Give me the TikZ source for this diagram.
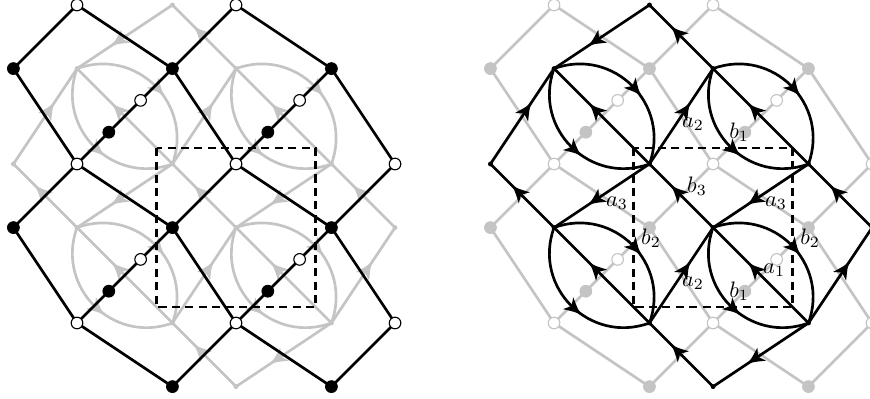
\documentclass[tikz,border=0pt]{standalone}
\usetikzlibrary{decorations.markings,calc}
\definecolor{lg}{gray}{0.77}
\tikzset{
  ln/.style={line width=1.2pt, line cap=round, line join=round},
  arr/.style 2 args={postaction={decorate}, decoration={markings, mark=at position #1 with
    {\fill[#2] (4.3pt,0) .. controls (1.2pt,0.7pt) .. (-4.1pt,3.5pt) -- (-2.1pt,0) -- (-4.1pt,-3.5pt) .. controls (1.2pt,-0.7pt) .. cycle;}}},
  vtx/.style={circle, inner sep=0pt, minimum size=5.2pt, line width=0.5pt},
  dotv/.style={circle, inner sep=0pt, minimum size=2.2pt},
  lab/.style={inner sep=0pt},
  frame/.style={line width=1.1pt, dash pattern=on 3.6pt off 2.4pt},
}
% vertex positions of one panel (unit = lattice period), y measured downward
\newcommand\defpts[1]{%
  \foreach \n/\x/\y in {W00/0/0, W10/1/0, W01/0/1, W11/1/1, W21/2/1, W02/0/2, W12/1/2, W22/2/2,
     Bm0/-0.4/0.4, B00/0.6/0.4, B10/1.6/0.4, Bm1/-0.4/1.4, B01/0.6/1.4, B11/1.6/1.4, B02/0.6/2.4, B12/1.6/2.4,
     P00/0/0.4, P10/1/0.4, P01/0/1.4, P11/1/1.4, P21/2/1.4, P12/1/2.4,
     Q00/0.6/0, Qm1/-0.4/1, Q01/0.6/1, Q11/1.6/1, Q02/0.6/2, Q12/1.6/2}
    {\coordinate (#1\n) at (\x,-\y);}%
  \coordinate (#1F1) at (0.5,-0.9);
  \coordinate (#1F2) at (1.5,-1.9);
}
% graph of white/black vertices (no arrows)
\newcommand\graphone[2]{%
  \foreach \a/\b in {Bm0/W00, Bm0/W01, B00/W00, B00/W10, B00/W11, B00/W01,
      B10/W10, B10/W21, B10/W11, Bm1/W01, Bm1/W02, B01/W01, B01/W11, B01/W12, B01/W02,
      B11/W11, B11/W21, B11/W22, B11/W12, B02/W02, B02/W12, B12/W12, B12/W22}
    {\draw[ln, #2] (#1\a) -- (#1\b);}%
  \foreach \n in {W00, W10, W01, W11, W21, W02, W12, W22}
    {\node[vtx, draw=#2, fill=white] (#1v\n) at (#1\n) {};}%
  \foreach \n in {Bm0, B00, B10, Bm1, B01, B11, B02, B12}
    {\node[vtx, draw=#2, fill=#2] (#1v\n) at (#1\n) {};}%
  \foreach \a/\b in {B00/W01, B10/W11, B01/W02, B11/W12}
    {\node[vtx, draw=#2, fill=white] (#1s\a) at ($(#1\a)!1/3!(#1\b)$) {};
     \node[vtx, draw=#2, fill=#2] (#1t\a) at ($(#1\a)!2/3!(#1\b)$) {};}%
}
% directed graph with the lenses
\newcommand\graphtwo[2]{%
  \foreach \a/\b in {Q00/P00, P10/Q00, Qm1/P00, P01/Qm1, Q01/P01, Q01/P10, P11/Q01,
      Q11/P11, P21/Q11, P12/Q02, Q02/P11, Q12/P12, Q12/P21}
    {\draw[ln, draw=#2, arr={0.57}{#2}] (#1\a) -- (#1\b);}%
  \foreach \p/\q in {P00/Q01, P10/Q11, P01/Q02, P11/Q12}
    {\draw[ln, draw=#2, arr={0.53}{#2}] (#1\p) to[bend left=65, looseness=1.2] (#1\q);
     \draw[ln, draw=#2, arr={0.53}{#2}] (#1\p) to[bend right=65, looseness=1.2] (#1\q);
     \draw[ln, draw=#2, arr={0.57}{#2}] (#1\q) -- (#1\p);}%
  \foreach \n in {P00, P10, P01, P11, P21, P12, Q00, Qm1, Q01, Q11, Q02, Q12}
    {\node[dotv, fill=#2] (#1d\n) at (#1\n) {};}%
}
\begin{document}
\begin{tikzpicture}[x=2.5cm, y=2.5cm]
\useasboundingbox (-0.4843,0.0314) rectangle (4.987,-2.4717);
% left panel
\begin{scope}
  \defpts{L}
  \graphtwo{L}{lg}
  \graphone{L}{black}
  \draw[frame] (LF1) rectangle (LF2);
\end{scope}
% right panel
\begin{scope}[shift={(3,0)}]
  \defpts{R}
  \graphone{R}{lg}
  \graphtwo{R}{black}
  \draw[frame] (RF1) rectangle (RF2);
  \node[lab] (la2u) at (0.874,-0.75) {$a_2$};
  \node[lab] (lb1u) at (1.164,-0.80) {$b_1$};
  \node[lab] (lb3) at (0.899,-1.138) {$b_3$};
  \node[lab] (la3l) at (0.396,-1.245) {$a_3$};
  \node[lab] (la3r) at (1.396,-1.245) {$a_3$};
  \node[lab] (lb2l) at (0.610,-1.465) {$b_2$};
  \node[lab] (lb2r) at (1.610,-1.465) {$b_2$};
  \node[lab] (la1) at (1.384,-1.667) {$a_1$};
  \node[lab] (la2d) at (0.874,-1.75) {$a_2$};
  \node[lab] (lb1d) at (1.164,-1.80) {$b_1$};
\end{scope}
\end{tikzpicture}
\end{document}
